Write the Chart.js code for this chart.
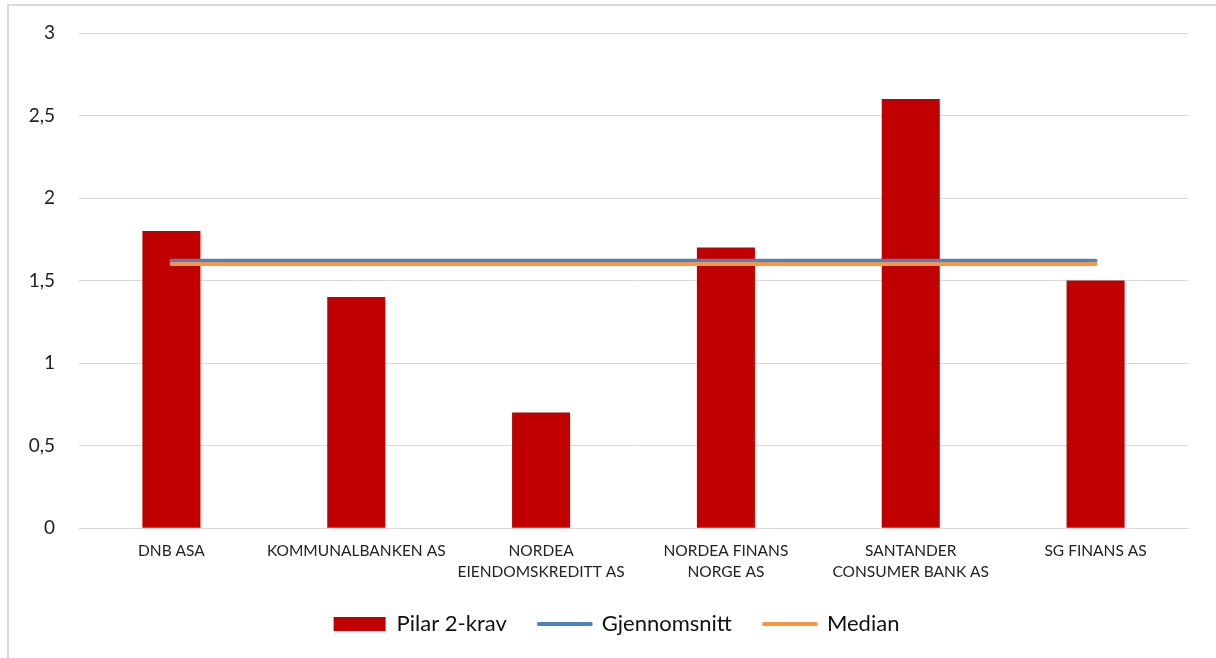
<!DOCTYPE html>
<html>
<head>
<meta charset="utf-8">
<script src="https://cdn.jsdelivr.net/npm/chart.js@4/dist/chart.umd.min.js"></script>
<style>
  html, body { margin: 0; padding: 0; background: #fff; }
  #wrap { position: absolute; left: 7px; top: 4px; width: 1209px; height: 654px;
          border-left: 2px solid #d9d9d9; border-top: 2px solid #d9d9d9; box-sizing: border-box; }
  #box { position: absolute; left: 0; top: 0; width: 1207px; height: 652px; }
</style>
</head>
<body>
<div id="wrap"><div id="box"><canvas id="c"></canvas></div></div>
<script>
const categories = [
  "DNB ASA",
  "KOMMUNALBANKEN AS",
  ["NORDEA", "EIENDOMSKREDITT AS"],
  ["NORDEA FINANS", "NORGE AS"],
  ["SANTANDER", "CONSUMER BANK AS"],
  "SG FINANS AS"
];
const pilar2 = [1.8, 1.4, 0.7, 1.7, 2.6, 1.5];
const gjennomsnitt = [1.62, 1.62, 1.62, 1.62, 1.62, 1.62];
const median = [1.6, 1.6, 1.6, 1.6, 1.6, 1.6];
const yTicks = [0, 0.5, 1, 1.5, 2, 2.5, 3];

const FONT = "Lato, 'Open Sans', sans-serif";

const legendShift = {
  id: 'legendShift',
  afterLayout(chart) {
    if (chart.legend) { chart.legend.left += 18; chart.legend.right += 18; }
  }
};

new Chart(document.getElementById('c'), {
  plugins: [legendShift],
  data: {
    labels: categories,
    datasets: [
      { type: 'bar', label: 'Pilar 2-krav', data: pilar2, backgroundColor: '#c00000',
        categoryPercentage: 1, barPercentage: 0.314, order: 3 },
      { type: 'line', label: 'Gjennomsnitt', data: gjennomsnitt, borderColor: '#4f81bd',
        borderWidth: 4, pointRadius: 0, borderCapStyle: 'round', order: 2 },
      { type: 'line', label: 'Median', data: median, borderColor: '#f79646',
        borderWidth: 4, pointRadius: 0, borderCapStyle: 'round', order: 1 }
    ]
  },
  options: {
    responsive: true,
    maintainAspectRatio: false,
    animation: false,
    layout: { padding: { left: 0, right: 28, top: 27, bottom: 13 } },
    plugins: {
      tooltip: { enabled: false },
      legend: {
        position: 'bottom',
        labels: {
          font: { family: FONT, size: 22 },
          color: '#111',
          usePointStyle: true,
          pointStyleWidth: 52,
          boxHeight: 14,
          padding: 32,
          generateLabels(chart) {
            return chart.data.datasets.map((ds, i) => ds.type === 'bar'
              ? { text: ds.label, fillStyle: ds.backgroundColor, strokeStyle: ds.backgroundColor,
                  lineWidth: 0, pointStyle: 'rect', datasetIndex: i, fontColor: '#111' }
              : { text: ds.label, fillStyle: ds.borderColor, strokeStyle: ds.borderColor,
                  lineWidth: 4, lineCap: 'round', pointStyle: 'line', datasetIndex: i, fontColor: '#111' });
          }
        }
      }
    },
    scales: {
      x: {
        afterFit(scale) { scale.height -= 13; },
        grid: { display: false, drawTicks: false },
        border: { display: true, color: '#d9d9d9', width: 1 },
        ticks: { font: { family: FONT, size: 15.5, lineHeight: 1.35 }, color: '#222', maxRotation: 0, autoSkip: false, padding: 12 }
      },
      y: {
        min: 0, max: 3,
        afterBuildTicks(scale) { scale.ticks = yTicks.map(v => ({ value: v })); },
        afterFit(scale) { scale.width = 70; },
        grid: { color: '#d9d9d9', lineWidth: 1, drawTicks: true, tickLength: 24, tickColor: 'rgba(0,0,0,0)' },
        border: { display: false },
        ticks: {
          font: { family: FONT, size: 19 }, color: '#222', padding: 0,
          callback: v => String(v).replace('.', ',')
        }
      }
    }
  }
});
</script>
</body>
</html>
